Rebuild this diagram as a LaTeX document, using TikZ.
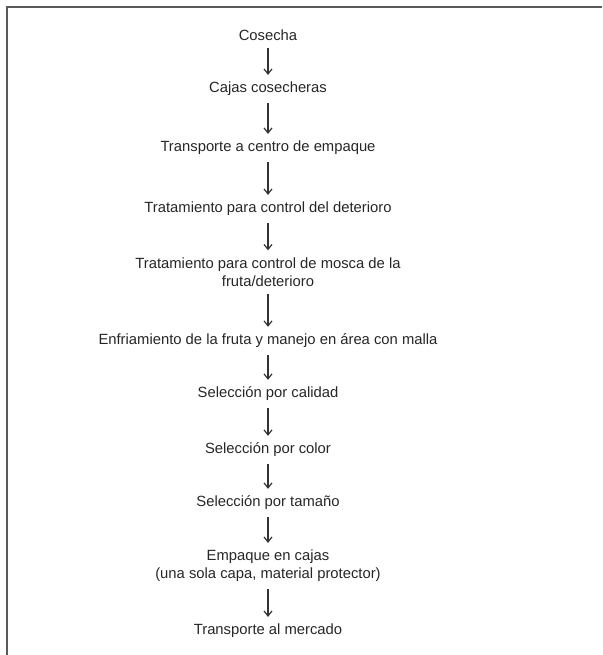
\documentclass[tikz,border=0pt]{standalone}
\usepackage{fontspec}
\setmainfont{Liberation Sans}
\usetikzlibrary{arrows.meta}

\tikzset{
	paso/.style={align=center, inner sep=1pt, text=black!85, font=\fontsize{14.8}{18}\selectfont},
	flecha/.style={-{Straight Barb[length=5pt,width=8pt]}, line width=1.2pt, black!80, shorten >=6pt, shorten <=6pt}
}

\begin{document}
\begin{tikzpicture}[x=1pt, y=-1pt]
		\useasboundingbox (0,0) rectangle (602,655);
		\draw [line width=2.2pt, black!65] (7,655) |- (602,7);
		% pasos del proceso
		\node[paso] (cosecha) at (268,35) {Cosecha};
		\node[paso] (cajas) at (268,89) {Cajas cosecheras};
		\node[paso] (transporte) at (268,148) {Transporte a centro de empaque};
		\node[paso] (tratdet) at (268,209) {Tratamiento para control del deterioro};
		\node[paso] (tratmosca) at (268,272) {Tratamiento para control de mosca de la\\ fruta/deterioro};
		\node[paso] (enfriam) at (268,341) {Enfriamiento de la fruta y manejo en área con malla};
		\node[paso] (selcal) at (268,394) {Selección por calidad};
		\node[paso] (selcol) at (268,450) {Selección por color};
		\node[paso] (seltam) at (268,503) {Selección por tamaño};
		\node[paso] (empaque) at (268,566) {Empaque en cajas\\ (una sola capa, material protector)};
		\node[paso] (mercado) at (268,631) {Transporte al mercado};
		% flechas
		\foreach \a/\b in {cosecha/cajas, cajas/transporte, transporte/tratdet, tratdet/tratmosca,
			tratmosca/enfriam, enfriam/selcal, selcal/selcol, selcol/seltam, seltam/empaque, empaque/mercado}
			\draw [flecha] (\a) -- (\b);
		\end{tikzpicture}
\end{document}
